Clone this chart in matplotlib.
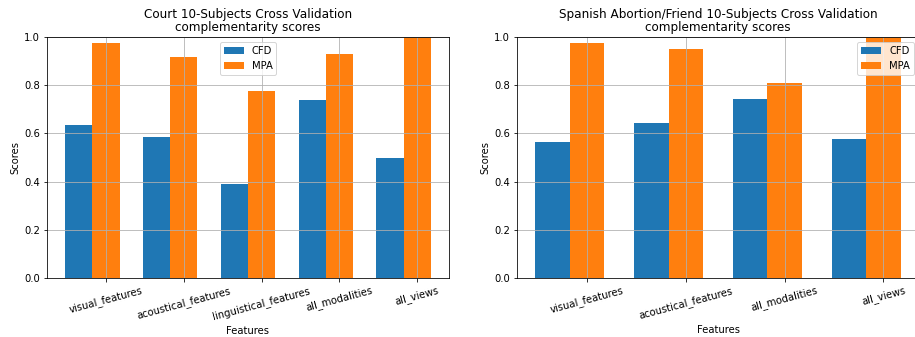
import numpy as np
import matplotlib
matplotlib.use("Agg")
import matplotlib.pyplot as plt

court_features = ["visual_features", "acoustical_features", "linguistical_features",
                  "all_modalities", "all_views"]
court_cfd = [0.634, 0.584, 0.389, 0.737, 0.496]
court_mpa = [0.976, 0.918, 0.778, 0.929, 1.0]

spanish_features = ["visual_features", "acoustical_features", "all_modalities", "all_views"]
spanish_cfd = [0.564, 0.644, 0.743, 0.575]
spanish_mpa = [0.977, 0.952, 0.811, 1.0]

width = 0.35


def draw(ax, title, features, cfd, mpa, legend_loc):
    index = np.arange(len(features))
    ax.bar(index, cfd, width, label="CFD")
    ax.bar(index + width, mpa, width, label="MPA")
    ax.set_xticks(index + width)
    ax.set_xticklabels(features, rotation=15)
    ax.set_ylim(0, 1.0)
    ax.set_xlabel("Features")
    ax.set_ylabel("Scores")
    ax.set_title(title, linespacing=1.0)
    ax.grid(True)
    ax.legend(loc=legend_loc)


W, H = 915, 337
fig = plt.figure(figsize=(W / 72, H / 72), dpi=72)
ax1 = fig.add_axes([47 / W, 59 / H, 402 / W, 241 / H])
ax2 = fig.add_axes([517 / W, 59 / H, 402 / W, 241 / H])

draw(ax1, "Court 10-Subjects Cross Validation\ncomplementarity scores",
     court_features, court_cfd, court_mpa, "upper center")
draw(ax2, "Spanish Abortion/Friend 10-Subjects Cross Validation\ncomplementarity scores",
     spanish_features, spanish_cfd, spanish_mpa, "upper right")

fig.savefig("out.png", dpi=72)
